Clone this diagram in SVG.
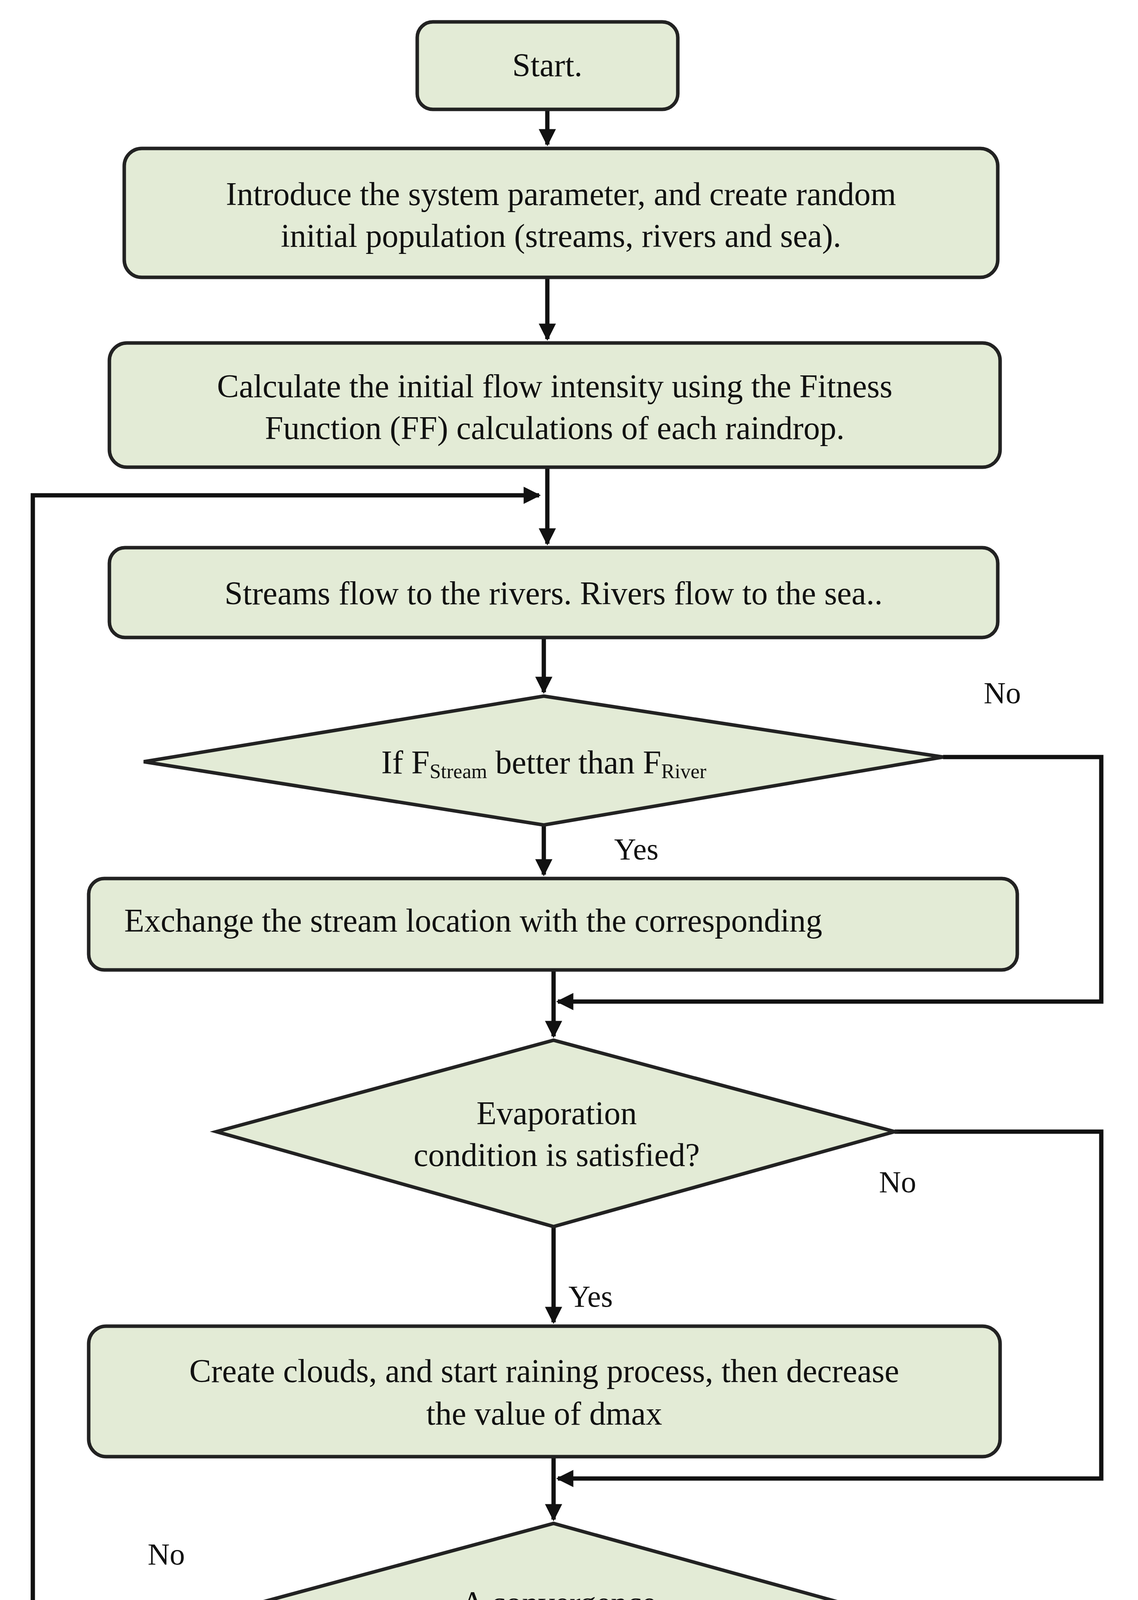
<svg xmlns="http://www.w3.org/2000/svg" width="2913" height="4931" viewBox="0 0 2913 4931">
<defs>
<marker id="ah" markerWidth="4" markerHeight="4" refX="3.6" refY="2" orient="auto" markerUnits="strokeWidth"><path d="M0,0 L4,2 L0,4 z" fill="#111"/></marker>
<style>
.n{fill:#e3ebd6;stroke:#222;stroke-width:9}
.t{font-family:"Liberation Serif",serif;font-size:84px;fill:#111;text-anchor:middle}
.s{font-family:"Liberation Serif",serif;font-size:84px;fill:#111;text-anchor:start}
.l{font-family:"Liberation Serif",serif;font-size:78px;fill:#111}
.c{fill:none;stroke:#111;stroke-width:11}
</style>
</defs>
<rect width="2913" height="4931" fill="#fff"/>
<g id="connectors">
<line class="c" x1="1401" y1="280" x2="1401" y2="370" marker-end="url(#ah)"/>
<line class="c" x1="1401" y1="710" x2="1401" y2="868" marker-end="url(#ah)"/>
<line class="c" x1="1401" y1="1196" x2="1401" y2="1392" marker-end="url(#ah)"/>
<polyline class="c" points="461,4158 84,4158 84,1268 1380,1268" marker-end="url(#ah)"/>
<line class="c" x1="1392" y1="1632" x2="1392" y2="1772" marker-end="url(#ah)"/>
<polyline class="c" points="2414,1938 2819,1938 2819,2564 1428,2564" marker-end="url(#ah)"/>
<line class="c" x1="1392" y1="2112" x2="1392" y2="2239" marker-end="url(#ah)"/>
<line class="c" x1="1417" y1="2483" x2="1417" y2="2653" marker-end="url(#ah)"/>
<polyline class="c" points="2290,2897 2819,2897 2819,3785 1428,3785" marker-end="url(#ah)"/>
<line class="c" x1="1417" y1="3140" x2="1417" y2="3385" marker-end="url(#ah)"/>
<line class="c" x1="1417" y1="3729" x2="1417" y2="3890" marker-end="url(#ah)"/>
<line class="c" x1="1439" y1="4417" x2="1439" y2="4600" marker-end="url(#ah)"/>
</g>
<g id="start"><rect class="n" x="1068" y="56" width="667" height="224" rx="40"/><text class="t" x="1401" y="195">Start.</text></g>
<g id="init"><rect class="n" x="318" y="380" width="2236" height="330" rx="45"/><text class="t" x="1436" y="525">Introduce the system parameter, and create random</text><text class="t" x="1436" y="632">initial population (streams, rivers and sea).</text></g>
<g id="calc"><rect class="n" x="280" y="878" width="2280" height="318" rx="45"/><text class="t" x="1420" y="1017">Calculate the initial flow intensity using the Fitness</text><text class="t" x="1420" y="1124">Function (FF) calculations of each raindrop.</text></g>
<g id="flow"><rect class="n" x="280" y="1402" width="2274" height="230" rx="40"/><text class="t" x="1417" y="1547">Streams flow to the rivers. Rivers flow to the sea..</text></g>
<g id="d1"><polygon class="n" points="368,1950 1392,1782 2414,1938 1392,2112"/><text class="t" x="1392" y="1980">If F<tspan font-size="52" dy="12">Stream</tspan><tspan dy="-12"> better than F</tspan><tspan font-size="52" dy="12">River</tspan></text></g>
<g id="exchange"><rect class="n" x="227" y="2249" width="2377" height="234" rx="40"/><text class="s" x="318" y="2385">Exchange the stream location with the corresponding</text></g>
<g id="d2"><polygon class="n" points="554,2897 1417,2663 2290,2897 1417,3140"/><text class="t" x="1425" y="2878">Evaporation</text><text class="t" x="1425" y="2985">condition is satisfied?</text></g>
<g id="clouds"><rect class="n" x="227" y="3395" width="2333" height="334" rx="45"/><text class="t" x="1393" y="3538">Create clouds, and start raining process, then decrease</text><text class="t" x="1393" y="3647">the value of dmax</text></g>
<g id="d3"><polygon class="n" points="461,4158 1417,3900 2352,4158 1417,4417"/><text class="t" x="1430" y="4132">A convergence</text><text class="t" x="1430" y="4243">criterion is fulfilled?</text></g>
<g id="end"><rect class="n" x="1121" y="4610" width="614" height="212" rx="40"/><text class="t" x="1428" y="4748">End</text></g>
<g id="labels">
<text class="l" x="2518" y="1800">No</text>
<text class="l" x="1572" y="2200">Yes</text>
<text class="l" x="2250" y="3052">No</text>
<text class="l" x="1455" y="3345">Yes</text>
<text class="l" x="378" y="4005">No</text>
<text class="l" x="1505" y="4563">Yes</text>
</g>
</svg>
